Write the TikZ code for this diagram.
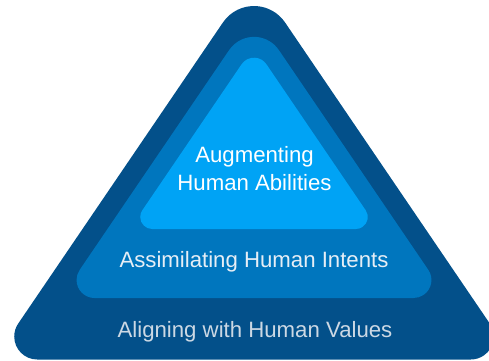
\documentclass[tikz,border=0pt]{standalone}
\usepackage{fontspec}
\setmainfont{Liberation Sans}
\definecolor{navyband}{HTML}{03508A}
\definecolor{midband}{HTML}{0076BE}
\definecolor{topband}{HTML}{00A3F5}
\definecolor{txtlight}{HTML}{FFFFFF}
\definecolor{txtmid}{HTML}{E6EEF6}
\definecolor{txtdim}{HTML}{CCD8E4}
% #1 colour, #2 centre x, #3 sharp apex y, #4 base y, #5 top radius, #6 base radius
\newcommand\myroundtri[6]{%
  \pgfmathsetmacro\rtAng{atan(0.68)}%
  \pgfmathsetmacro\rtCtY{#3 + #5/sin(\rtAng)}%
  \pgfmathsetmacro\rtTlX{#2 - #5*cos(\rtAng)}%
  \pgfmathsetmacro\rtTlY{\rtCtY - #5*sin(\rtAng)}%
  \pgfmathsetmacro\rtHb{0.68*(#4-#3)}%
  \pgfmathsetmacro\rtKk{#6/tan((90-\rtAng)/2)}%
  \pgfmathsetmacro\rtCrX{#2+\rtHb-\rtKk}%
  \pgfmathsetmacro\rtCrY{#4-#6}%
  \pgfmathsetmacro\rtBrX{\rtCrX + #6*cos(\rtAng)}%
  \pgfmathsetmacro\rtBrY{\rtCrY - #6*sin(\rtAng)}%
  \pgfmathsetmacro\rtBlX{#2-\rtHb+\rtKk}%
  \fill[#1] (\rtTlX,\rtTlY) arc[start angle=180+\rtAng, end angle=360-\rtAng, radius=#5]
    -- (\rtBrX,\rtBrY) arc[start angle=-\rtAng, end angle=90, radius=#6]
    -- (\rtBlX,#4) arc[start angle=90, end angle=180+\rtAng, radius=#6] -- cycle;%
}
\tikzset{
  lbl/.style={anchor=base, inner sep=0pt, font=\fontsize{22.2}{27}\selectfont}
}
\begin{document}
\begin{tikzpicture}[x=1pt,y=-1pt]
\useasboundingbox (0,0) rectangle (489,360);
\clip (0,0) rectangle (489,360);
\myroundtri{navyband}{254}{-23.2}{359.5}{37.5}{23}
\myroundtri{midband}{254}{13.5}{298}{30}{18}
\myroundtri{topband}{254}{46}{229}{15}{12}
\node[lbl, text=txtlight] (aug1) at (254.5,162.5) {Augmenting};
\node[lbl, text=txtlight] (aug2) at (254.5,190) {Human Abilities};
\node[lbl, text=txtmid] (assim) at (254,267.5) {Assimilating Human Intents};
\node[lbl, text=txtdim] (align) at (255,337) {Aligning with Human Values};
\end{tikzpicture}
\end{document}
